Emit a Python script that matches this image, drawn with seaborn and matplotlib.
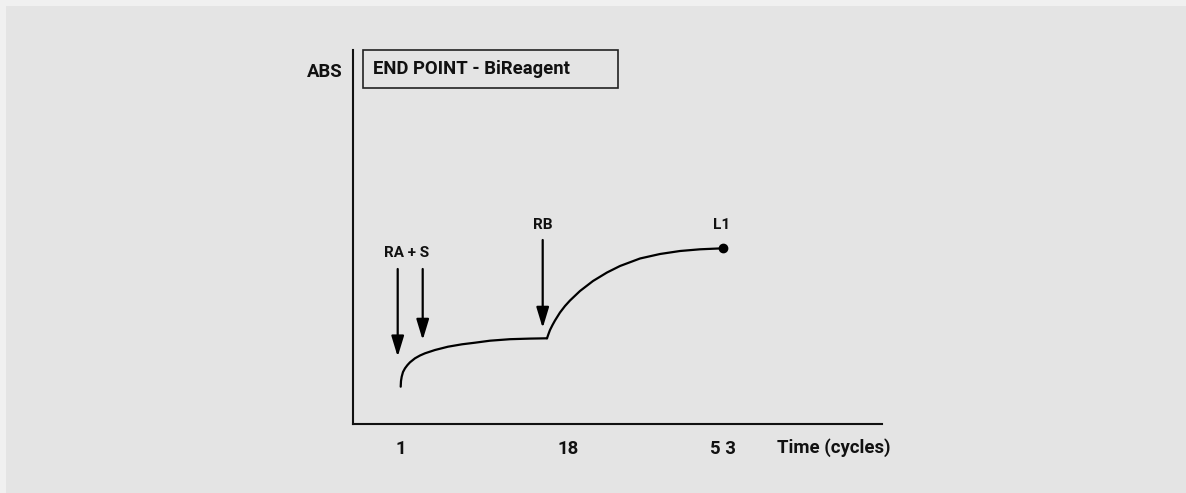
import matplotlib
matplotlib.use("Agg")
import matplotlib.pyplot as plt
from matplotlib.patches import Rectangle
import seaborn as sns
import pandas as pd

# ---- data (schematic units: x 0..529 along time axis, y 0..374 absorbance) ----
phase1_time = [47.7, 48.0, 48.7, 50.0, 52.0, 54.5, 57.0, 62.0, 67.0, 72.0, 82.0,
               95.0, 109.0, 122.0, 137.0, 157.0, 177.0, 194.0]
phase1_abs = [37.3, 43.0, 47.3, 52.0, 55.7, 59.0, 61.7, 65.7, 68.5, 70.7, 74.0,
              77.3, 79.7, 81.3, 83.3, 84.8, 85.4, 85.7]
phase2_time = [194.0, 195.5, 197.0, 199.5, 202.0, 207.0, 212.0, 217.0, 227.0, 240.0,
               254.0, 267.0, 287.0, 307.0, 327.0, 347.0, 370.0]
phase2_abs = [85.7, 90.0, 94.0, 99.0, 103.5, 111.5, 118.0, 123.5, 133.0, 143.0,
              151.5, 158.0, 165.5, 170.0, 173.0, 174.7, 175.7]

arrow_labels = ["RA", "S", "RB"]
arrow_x = [44.7, 69.7, 189.7]
arrow_top = [155.0, 155.0, 184.0]
arrow_tip = [67.3, 84.0, 96.0]

tick_pos = [48, 215, 370]
tick_labels = ["1", "18", "5 3"]

title = "END POINT - BiReagent"
y_label = "ABS"
x_label = "Time (cycles)"

# ---- style ----
sns.set_theme(style="white")
plt.rcParams["font.family"] = ["Roboto", "DejaVu Sans"]
plt.rcParams["font.weight"] = "bold"

BG = "#e4e4e4"
INK = "#111111"
fig = plt.figure(figsize=(11.86, 4.93), dpi=100, facecolor="#f0f0f0")
bgrect = Rectangle((6 / 1186, 0), 1, 1 - 6 / 493, transform=fig.transFigure,
                   facecolor=BG, edgecolor="none", zorder=-10)
fig.patches.append(bgrect)

W, H = 1186, 493
ax = fig.add_axes([353 / W, (H - 424) / H, (882 - 353) / W, (424 - 50) / H])
ax.set_zorder(5)
ax.set_facecolor("none")

df1 = pd.DataFrame({"t": phase1_time, "a": phase1_abs})
df2 = pd.DataFrame({"t": phase2_time, "a": phase2_abs})
sns.lineplot(data=df1, x="t", y="a", ax=ax, color="black", lw=1.6, sort=False)
sns.lineplot(data=df2, x="t", y="a", ax=ax, color="black", lw=1.6, sort=False)
ax.plot(phase2_time[-1], phase2_abs[-1], "o", color="black", ms=6, zorder=5)

ax.set_xlim(0, 529)
ax.set_ylim(0, 374)

for s in ["top", "right"]:
    ax.spines[s].set_visible(False)
for s in ["left", "bottom"]:
    ax.spines[s].set_color(INK)
    ax.spines[s].set_linewidth(1.5)

ax.set_yticks([])
ax.set_xticks(tick_pos)
ax.set_xticklabels(tick_labels, fontsize=13.3, fontweight="bold", color=INK)
ax.tick_params(axis="x", length=0, pad=11.5)
ax.set_xlabel("")
ax.set_ylabel("")

ax.text(481, -0.064, x_label, transform=ax.get_xaxis_transform(), ha="center",
        va="center", fontsize=13.3, fontweight="bold", color=INK, clip_on=False)

# arrows
for xa, yt, yb in zip(arrow_x, arrow_top, arrow_tip):
    ax.annotate("", xy=(xa, yb), xytext=(xa, yt),
                arrowprops=dict(arrowstyle="-|>,head_length=1.25,head_width=0.38",
                                mutation_scale=10, lw=1.6, color="black",
                                shrinkA=0, shrinkB=0))

ax.text(54, 171, f"{arrow_labels[0]} + {arrow_labels[1]}", ha="center", va="center",
        fontsize=11, fontweight="bold", color=INK)
ax.text(190, 199, arrow_labels[2], ha="center", va="center",
        fontsize=11, fontweight="bold", color=INK)
ax.text(368.5, 199, "L1", ha="center", va="center",
        fontsize=11, fontweight="bold", color=INK)

# title box
ax.add_patch(Rectangle((10, 336), 255, 38, facecolor="none", edgecolor="#222222",
                       lw=1.2, clip_on=False))
ax.text(20, 355, title, ha="left", va="center", fontsize=13.3, fontweight="bold",
        color=INK)
ax.text(-10, 352, y_label, ha="right", va="center", fontsize=13.3, fontweight="bold",
        color=INK, clip_on=False)

fig.savefig("out.png", dpi=100, facecolor=fig.get_facecolor())
